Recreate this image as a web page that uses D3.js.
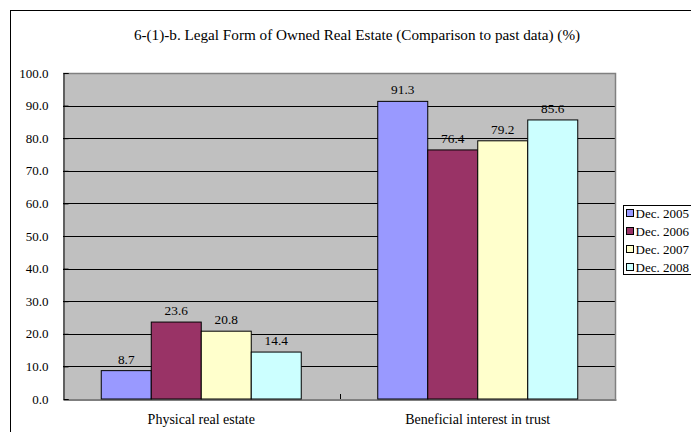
<!DOCTYPE html>
<html>
<head>
<meta charset="utf-8">
<script src="https://cdn.jsdelivr.net/npm/d3@7"></script>
<style>
  html, body { margin: 0; padding: 0; background: #fff; }
  svg { display: block; }
</style>
</head>
<body>
<svg id="chart" width="691" height="432"></svg>
<script>
// Chart data
const categories = ["Physical real estate", "Beneficial interest in trust"];
const seriesNames = ["Dec. 2005", "Dec. 2006", "Dec. 2007", "Dec. 2008"];
const seriesColors = ["#9999ff", "#993366", "#ffffcc", "#ccffff"];
const dec2005 = [8.7, 91.3];
const dec2006 = [23.6, 76.4];
const dec2007 = [20.8, 79.2];
const dec2008 = [14.4, 85.6];
const yTicks = [0, 10, 20, 30, 40, 50, 60, 70, 80, 90, 100];
const titleText = "6-(1)-b. Legal Form of Owned Real Estate (Comparison to past data) (%)";

const seriesValues = [dec2005, dec2006, dec2007, dec2008];
const FONT = '"Liberation Serif"';

const svg = d3.select("#chart");

// Outer chart frame (extends beyond the right and bottom edge)
svg.append("rect")
  .attr("x", 10.5).attr("y", 10.5)
  .attr("width", 720).attr("height", 460)
  .attr("fill", "#fff").attr("stroke", "#000").attr("stroke-width", 1);

// Title
svg.append("text")
  .attr("x", 357).attr("y", 39.5)
  .attr("text-anchor", "middle")
  .style("font-family", FONT)
  .style("font-size", "15.2px")
  .attr("fill", "#000")
  .text(titleText);

// Plot area
const plot = { left: 63, right: 616, top: 73, bottom: 399 };

const x0 = d3.scaleBand()
  .domain(categories)
  .range([plot.left, plot.right])
  .paddingInner(0).paddingOuter(0);

const x1 = d3.scaleBand()
  .domain(seriesNames)
  .range([0, 200]);

const y = d3.scaleLinear()
  .domain([0, 100])
  .range([plot.bottom, plot.top]);

// Background
svg.append("rect")
  .attr("x", plot.left).attr("y", plot.top)
  .attr("width", plot.right - plot.left).attr("height", plot.bottom - plot.top)
  .attr("fill", "#c0c0c0");

// Gridlines
svg.append("g")
  .selectAll("line")
  .data(yTicks.filter(t => t > 0 && t < 100))
  .join("line")
  .attr("x1", plot.left).attr("x2", plot.right)
  .attr("y1", d => Math.round(y(d)) + 0.5).attr("y2", d => Math.round(y(d)) + 0.5)
  .attr("stroke", "#000").attr("stroke-width", 1);

// Plot border top/right
svg.append("path")
  .attr("d", `M${plot.left},${plot.top + 0.5}H${plot.right - 0.5}V${plot.bottom}`)
  .attr("fill", "none").attr("stroke", "#808080").attr("stroke-width", 1.5);

// Bars
const groups = svg.append("g")
  .selectAll("g")
  .data(categories)
  .join("g")
  .attr("transform", (c) => `translate(${x0(c) + (x0.bandwidth() - 200) / 2},0)`);

groups.each(function (c, ci) {
  const g = d3.select(this);
  seriesNames.forEach((s, si) => {
    const v = seriesValues[si][ci];
    g.append("rect")
      .attr("x", x1(s))
      .attr("y", y(v))
      .attr("width", x1.bandwidth())
      .attr("height", y(0) - y(v))
      .attr("fill", seriesColors[si])
      .attr("stroke", "#000").attr("stroke-width", 1);
    g.append("text")
      .attr("x", x1(s) + x1.bandwidth() / 2)
      .attr("y", y(v) - 7)
      .attr("text-anchor", "middle")
      .style("font-family", FONT)
      .style("font-size", "13.3px")
      .attr("fill", "#000")
      .text(v.toFixed(1));
  });
});

// Y axis
const yAxis = svg.append("g")
  .attr("transform", `translate(${plot.left + 0.5},0)`)
  .call(d3.axisLeft(y).tickValues(yTicks).tickSize(-5).tickPadding(15).tickFormat(d3.format(".1f")));
yAxis.select(".domain").attr("stroke", "#000");
yAxis.selectAll(".tick line").attr("stroke", "#000");
yAxis.selectAll(".tick text")
  .style("font-family", FONT)
  .style("font-size", "13px").attr("fill", "#000");

// X axis
const xAxis = svg.append("g")
  .attr("transform", `translate(0,${plot.bottom + 0.5})`)
  .call(d3.axisBottom(x0).tickSize(0).tickPadding(14.5));
xAxis.select(".domain").attr("stroke", "#000");
xAxis.selectAll(".tick text")
  .style("font-family", FONT)
  .style("font-size", "14px").attr("fill", "#000");

// Category separator ticks
svg.append("g")
  .selectAll("line")
  .data(categories.slice(1))
  .join("line")
  .attr("x1", c => Math.round(x0(c)) + 0.5).attr("x2", c => Math.round(x0(c)) + 0.5)
  .attr("y1", plot.bottom - 5).attr("y2", plot.bottom)
  .attr("stroke", "#000");

// Legend
const legend = svg.append("g").attr("transform", "translate(623.5,205.5)");
legend.append("rect")
  .attr("width", 100).attr("height", 69)
  .attr("fill", "#fff").attr("stroke", "#000");
seriesNames.forEach((s, i) => {
  const cy = 4 + i * 18;
  legend.append("rect")
    .attr("x", 3).attr("y", cy)
    .attr("width", 7).attr("height", 7)
    .attr("fill", seriesColors[i]).attr("stroke", "#000");
  legend.append("text")
    .attr("x", 12).attr("y", cy + 8.5)
    .style("font-family", FONT)
    .style("font-size", "13px").attr("fill", "#000")
    .text(s);
});
</script>
</body>
</html>
